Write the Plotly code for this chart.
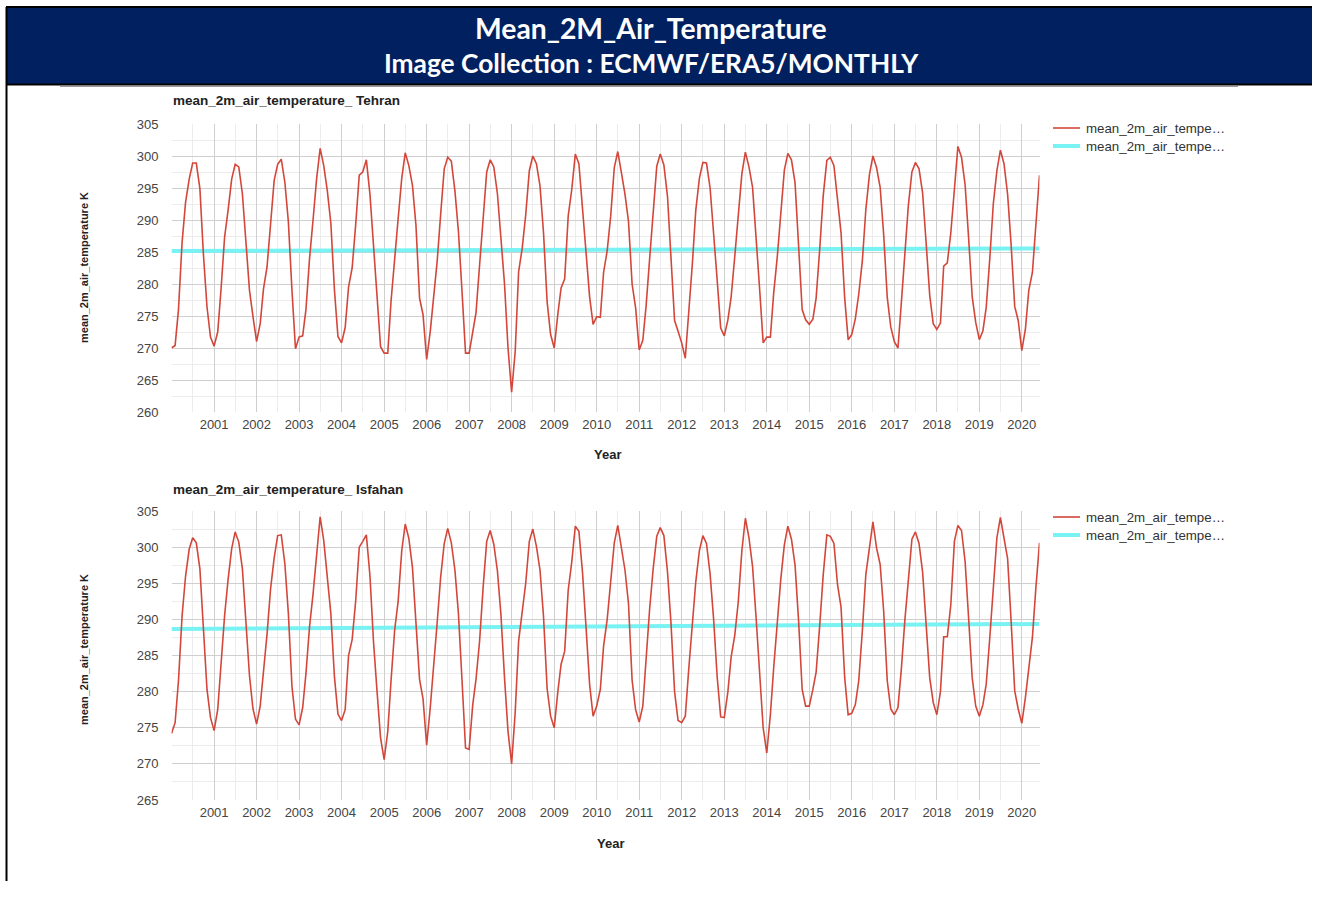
import pandas as pd
import plotly.graph_objects as go

# Monthly mean 2 m air temperature (K), ERA5 monthly, Jan 2000 - Jun 2020
TEHRAN_K = [
    270.0, 270.4, 276.0, 286.5, 292.8, 296.4, 298.9, 298.9, 294.9, 284.7, 276.4, 271.7,  # 2000
    270.3, 272.5, 279.0, 287.3, 291.5, 296.4, 298.7, 298.3, 294.1, 286.8, 279.0, 274.9,  # 2001
    271.0, 273.8, 279.2, 282.7, 289.5, 296.2, 298.7, 299.5, 295.9, 289.7, 279.0, 269.9,  # 2002
    271.7, 271.9, 276.0, 284.0, 290.0, 296.5, 301.2, 298.5, 294.5, 289.5, 279.0, 271.8,  # 2003
    270.8, 273.2, 279.5, 282.5, 289.2, 297.0, 297.5, 299.4, 294.0, 286.5, 278.0, 270.2,  # 2004
    269.2, 269.2, 277.3, 284.5, 290.2, 296.5, 300.5, 298.5, 295.4, 289.2, 277.8, 275.2,  # 2005
    268.2, 272.6, 277.3, 283.5, 290.8, 298.0, 299.8, 299.2, 294.5, 288.2, 278.8, 269.2,  # 2006
    269.2, 272.6, 275.5, 283.0, 290.8, 297.5, 299.4, 298.3, 294.1, 286.6, 280.0, 270.0,  # 2007
    263.1, 269.5, 281.9, 285.6, 290.8, 297.7, 300.0, 298.8, 295.3, 288.0, 277.2, 272.1,  # 2008
    270.0, 275.3, 279.4, 280.8, 290.6, 294.8, 300.3, 298.8, 292.0, 285.5, 278.0, 273.7,  # 2009
    274.9, 274.8, 281.8, 285.2, 290.6, 298.2, 300.7, 297.4, 294.0, 289.8, 280.0, 276.3,  # 2010
    269.7, 271.2, 276.5, 284.0, 291.5, 298.4, 300.3, 298.6, 293.7, 285.0, 274.3, 272.6,  # 2011
    270.8, 268.4, 275.0, 283.0, 291.5, 296.5, 299.0, 298.9, 295.0, 288.4, 280.6, 273.1,  # 2012
    271.9, 274.4, 278.0, 284.3, 290.5, 297.2, 300.6, 298.3, 295.1, 287.9, 279.1, 270.8,  # 2013
    271.7, 271.7, 278.5, 284.2, 291.2, 297.8, 300.4, 299.4, 295.8, 286.5, 276.0, 274.4,  # 2014
    273.7, 274.5, 277.8, 285.5, 293.8, 299.3, 299.8, 298.5, 293.2, 288.0, 277.9, 271.3,  # 2015
    272.1, 274.6, 278.4, 283.6, 291.6, 297.1, 300.0, 298.2, 295.1, 287.8, 277.9, 273.3,  # 2016
    271.0, 270.0, 276.8, 285.0, 292.2, 297.5, 299.0, 298.0, 294.2, 286.4, 278.2, 273.8,  # 2017
    272.9, 273.9, 282.8, 283.3, 288.0, 294.8, 301.5, 299.8, 295.5, 287.2, 278.0, 274.0,  # 2018
    271.3, 272.7, 276.3, 284.0, 292.5, 297.7, 300.9, 298.8, 294.0, 286.2, 276.5, 274.3,  # 2019
    269.6, 273.0, 279.0, 281.8, 289.5, 297.0,                                            # 2020
]

ISFAHAN_K = [
    274.2, 275.7, 281.5, 290.5, 296.0, 299.7, 301.3, 300.6, 297.0, 289.0, 280.3, 276.4,  # 2000
    274.6, 277.5, 284.0, 290.5, 295.5, 299.8, 302.1, 300.7, 297.0, 290.0, 282.2, 277.6,  # 2001
    275.5, 278.0, 282.7, 288.0, 294.2, 298.5, 301.6, 301.7, 297.7, 290.8, 280.7, 276.2,  # 2002
    275.4, 277.8, 282.5, 289.0, 293.5, 299.0, 304.2, 300.9, 296.0, 290.8, 282.0, 276.9,  # 2003
    276.0, 277.5, 285.0, 287.2, 292.5, 300.0, 300.8, 301.7, 296.0, 287.0, 280.0, 273.6,  # 2004
    270.6, 274.5, 281.5, 288.5, 292.5, 299.5, 303.2, 301.2, 297.2, 289.8, 281.7, 279.0,  # 2005
    272.6, 277.8, 283.0, 289.5, 295.8, 300.5, 302.6, 300.6, 296.8, 290.8, 281.5, 272.2,  # 2006
    272.0, 278.2, 281.7, 287.0, 294.4, 300.8, 302.3, 300.4, 296.7, 290.7, 281.9, 274.5,  # 2007
    270.0, 277.2, 287.0, 290.8, 295.0, 300.8, 302.5, 300.1, 296.8, 290.4, 280.4, 276.6,  # 2008
    275.0, 280.0, 283.8, 285.6, 294.0, 298.0, 302.9, 302.2, 296.5, 289.0, 281.0, 276.6,  # 2009
    278.0, 280.3, 286.3, 290.0, 295.5, 300.6, 303.0, 299.8, 296.8, 292.2, 281.6, 277.5,  # 2010
    275.8, 278.0, 284.6, 291.5, 297.0, 301.5, 302.7, 301.6, 296.6, 289.5, 280.0, 276.0,  # 2011
    275.7, 276.6, 283.0, 289.7, 295.2, 299.5, 301.6, 300.5, 296.3, 290.1, 282.0, 276.5,  # 2012
    276.4, 280.0, 284.8, 287.8, 292.4, 299.5, 304.0, 301.3, 297.3, 290.3, 281.6, 275.0,  # 2013
    271.5, 276.8, 283.2, 289.5, 295.5, 300.3, 302.9, 301.1, 297.5, 289.9, 280.3, 278.0,  # 2014
    278.0, 280.3, 282.7, 289.2, 296.2, 301.7, 301.5, 300.5, 294.8, 291.7, 282.0, 276.8,  # 2015
    277.0, 278.2, 281.5, 288.4, 296.2, 299.9, 303.5, 299.9, 297.6, 291.2, 281.5, 277.6,  # 2016
    276.8, 277.8, 282.9, 289.8, 295.3, 301.1, 302.1, 300.5, 296.5, 289.8, 281.9, 278.5,  # 2017
    276.8, 280.0, 287.6, 287.6, 292.0, 300.8, 303.0, 302.3, 298.0, 290.2, 281.9, 278.0,  # 2018
    276.6, 278.2, 281.0, 287.5, 294.4, 301.3, 304.1, 301.5, 298.4, 289.8, 280.1, 277.6,  # 2019
    275.6, 279.2, 282.9, 287.5, 294.4, 300.6,                                            # 2020
]

# Mean (trend) line end points, K
TEHRAN_MEAN = [285.15, 285.55]
ISFAHAN_MEAN = [288.67, 289.36]

TEHRAN_RANGE = [260, 305]
ISFAHAN_RANGE = [265, 305]

YEAR_TICKS = list(range(2001, 2021))

LEGEND_LABEL = "mean_2m_air_tempe\u2026"
Y_TITLE = "mean_2m_air_temperature K"

months = pd.date_range("2000-01-01", periods=len(TEHRAN_K), freq="MS")
ends = [months[0], months[-1]]
year_starts = [pd.Timestamp(year=y, month=1, day=1) for y in YEAR_TICKS]
half_years = list(pd.date_range("2000-01-01", months[-1], freq="6MS"))

# the page body keeps an 8 px margin on the right and 16 px below the figure
W, H = 1312, 881


def fx(px):
    return px / W


def fy(py):
    return 1 - py / H


RED = "#d3473a"
CYAN = "#78f2f2"
NAVY = "#002060"
SANS = "Liberation Sans, Arial, sans-serif"
TICK_FONT = dict(family=SANS, size=13, color="#444444")

fig = go.Figure()

# mean lines first so the monthly series sits on top
fig.add_trace(go.Scatter(x=ends, y=TEHRAN_MEAN, mode="lines", name=LEGEND_LABEL,
                         line=dict(color=CYAN, width=4), xaxis="x", yaxis="y"))
fig.add_trace(go.Scatter(x=months, y=TEHRAN_K, mode="lines", name=LEGEND_LABEL,
                         line=dict(color=RED, width=1.6), xaxis="x", yaxis="y"))
fig.add_trace(go.Scatter(x=ends, y=ISFAHAN_MEAN, mode="lines", name=LEGEND_LABEL,
                         line=dict(color=CYAN, width=4), xaxis="x2", yaxis="y2"))
fig.add_trace(go.Scatter(x=months, y=ISFAHAN_K, mode="lines", name=LEGEND_LABEL,
                         line=dict(color=RED, width=1.6), xaxis="x2", yaxis="y2"))


def xaxis_cfg(anchor):
    return dict(
        domain=[fx(171.5), fx(1039.5)], anchor=anchor, type="date",
        range=[months[0], months[-1]], automargin=False,
        tickmode="array", tickvals=year_starts, ticktext=[str(y) for y in YEAR_TICKS],
        showgrid=True, gridcolor="#cfcfcf", gridwidth=1,
        minor=dict(tickmode="array", tickvals=half_years, showgrid=True,
                   gridcolor="#ececec", gridwidth=1),
        showline=False, zeroline=False, ticks="", tickfont=TICK_FONT, ticklabelstandoff=3,
    )


def yaxis_cfg(anchor, dom, rng):
    return dict(
        domain=dom, anchor=anchor, range=rng, dtick=5, tick0=rng[0], automargin=False,
        showgrid=True, gridcolor="#cfcfcf", gridwidth=1,
        minor=dict(dtick=2.5, showgrid=True, gridcolor="#ececec", gridwidth=1),
        showline=False, zeroline=False, ticks="", tickfont=TICK_FONT, ticklabelstandoff=12,
    )


def hline(x0, x1, y, color, width):
    return dict(type="line", xref="paper", yref="paper", x0=fx(x0), x1=fx(x1), y0=fy(y), y1=fy(y),
                line=dict(color=color, width=width))


shapes = [
    # title banner
    dict(type="rect", xref="paper", yref="paper", x0=fx(6), x1=1.0, y0=fy(84), y1=fy(7.5),
         fillcolor=NAVY, line=dict(width=0), layer="below"),
    hline(6, W, 7, "#000000", 2),
    hline(6, W, 84.5, "#000000", 2),
    dict(type="line", xref="paper", yref="paper", x0=fx(6.5), x1=fx(6.5), y0=0, y1=fy(7),
         line=dict(color="#000000", width=2)),
    hline(60, 1238, 86.5, "#9a9a9a", 1),
    # legend keys
    hline(1053, 1080, 128, RED, 1.6),
    hline(1053, 1080, 146, CYAN, 4),
    hline(1053, 1080, 517, RED, 1.6),
    hline(1053, 1080, 535, CYAN, 4),
]

TITLE_FONT = dict(family=SANS, size=13.5, color="#222222")
AXIS_TITLE_FONT = dict(family=SANS, size=13, color="#222222")
YTITLE_FONT = dict(family=SANS, size=11, color="#222222")
LEGEND_FONT = dict(family=SANS, size=13.3, color="#333333")


def banner_font(size):
    return dict(family="Lato, Open Sans, sans-serif", size=size, color="#ffffff")


def ann(text, x, y, font, xanchor="center", angle=0):
    return dict(text=text, x=fx(x), y=fy(y), xref="paper", yref="paper", showarrow=False,
                xanchor=xanchor, yanchor="middle", font=font, textangle=angle)


annotations = [
    ann("<b>Mean_2M_Air_Temperature</b>", 651, 28, banner_font(28.3)),
    ann("<b>Image Collection : ECMWF/ERA5/MONTHLY</b>", 651, 63, banner_font(26.3)),
    ann("<b>mean_2m_air_temperature_ Tehran</b>", 171, 100, TITLE_FONT, xanchor="left"),
    ann("<b>mean_2m_air_temperature_ Isfahan</b>", 171, 489, TITLE_FONT, xanchor="left"),
    ann("<b>" + Y_TITLE + "</b>", 84, 268, YTITLE_FONT, angle=-90),
    ann("<b>" + Y_TITLE + "</b>", 84, 650, YTITLE_FONT, angle=-90),
    ann("<b>Year</b>", 607, 455, AXIS_TITLE_FONT),
    ann("<b>Year</b>", 610, 843, AXIS_TITLE_FONT),
    ann(LEGEND_LABEL, 1084, 128, LEGEND_FONT, xanchor="left"),
    ann(LEGEND_LABEL, 1084, 146, LEGEND_FONT, xanchor="left"),
    ann(LEGEND_LABEL, 1084, 517, LEGEND_FONT, xanchor="left"),
    ann(LEGEND_LABEL, 1084, 535, LEGEND_FONT, xanchor="left"),
]

fig.update_layout(
    width=W, height=H, margin=dict(l=0, r=0, t=0, b=0),
    paper_bgcolor="#ffffff", plot_bgcolor="#ffffff",
    xaxis=xaxis_cfg("y"),
    yaxis=yaxis_cfg("x", [fy(412), fy(124)], TEHRAN_RANGE),
    xaxis2=xaxis_cfg("y2"),
    yaxis2=yaxis_cfg("x2", [fy(800), fy(511)], ISFAHAN_RANGE),
    shapes=shapes,
    annotations=annotations,
    showlegend=False,
    hovermode="x unified",
)

fig.write_html("out.html")
